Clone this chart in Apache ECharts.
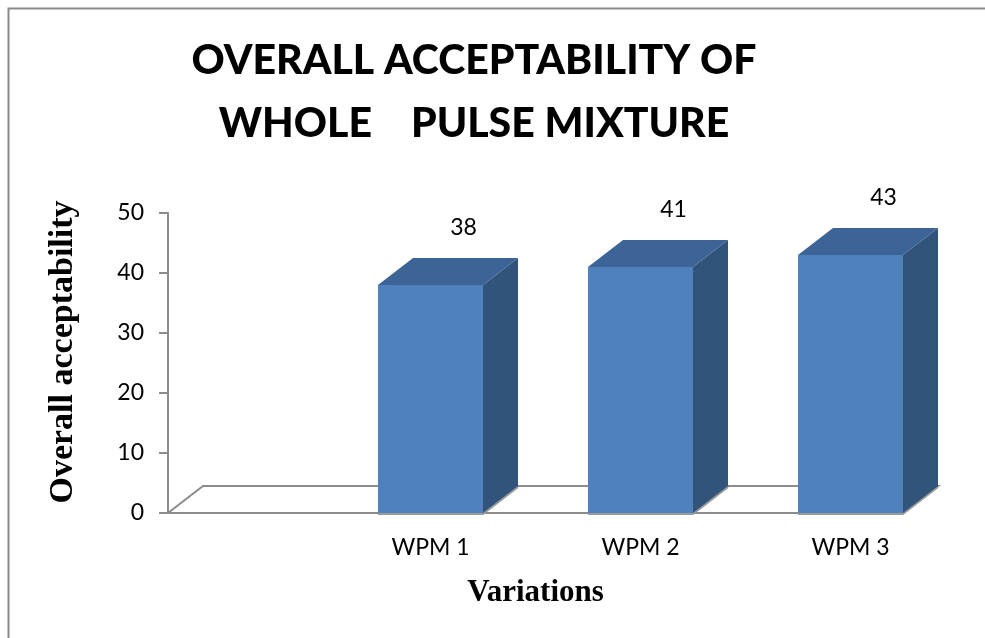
<!DOCTYPE html>
<html>
<head>
<meta charset="utf-8">
<script src="https://cdn.jsdelivr.net/npm/echarts@6/dist/echarts.min.js"></script>
<style>
  html, body { margin: 0; padding: 0; background: #ffffff; }
  #chart { width: 985px; height: 638px; }
</style>
</head>
<body>
<div id="chart"></div>
<script>
// Chart data
const categories = ['WPM 1', 'WPM 2', 'WPM 3'];
const acceptability = [38, 41, 43];
const yTicks = [0, 10, 20, 30, 40, 50];

// Layout of the pseudo-3D columns, in x-axis units (one slot per category)
const FIRST_SLOT = 1;      // columns start one slot after the axis origin
const BAR_WIDTH = 0.5;     // column front face width, in slots
const X_MAX = categories.length + FIRST_SLOT - 1 + BAR_WIDTH;
const DEPTH = [35, -27];   // oblique depth offset, px

const FRONT = '#4F81BD';
const TOP = '#3C6496';
const SIDE = '#32537A';

const chart = echarts.init(document.getElementById('chart'));

function floorItem(params, api) {
  const a = api.coord([0, 0]);
  const b = api.coord([X_MAX, 0]);
  return {
    type: 'polygon',
    shape: {
      points: [
        a, b,
        [b[0] + DEPTH[0], b[1] + DEPTH[1]],
        [a[0] + DEPTH[0], a[1] + DEPTH[1]]
      ]
    },
    style: { fill: '#ffffff', stroke: '#8C8C8C', lineWidth: 2 },
    z2: 0
  };
}

function barItem(params, api) {
  const x = api.value(0);
  const v = api.value(1);
  const bl = api.coord([x, 0]);
  const tl = api.coord([x, v]);
  const tr = api.coord([x + BAR_WIDTH, v]);
  const br = api.coord([x + BAR_WIDTH, 0]);
  const dx = DEPTH[0], dy = DEPTH[1];
  const sh = (p) => [p[0] + dx, p[1] + dy];
  return {
    type: 'group',
    children: [
      {
        type: 'polyline',
        shape: { points: [[bl[0], bl[1] + 1], [br[0], br[1] + 1], [sh(br)[0], sh(br)[1] + 1]] },
        style: { stroke: '#9A9A9A', lineWidth: 2, fill: null }
      },
      {
        type: 'polygon',
        shape: { points: [tr, sh(tr), sh(br), br] },
        style: { fill: SIDE }
      },
      {
        type: 'polygon',
        shape: { points: [tl, sh(tl), sh(tr), tr] },
        style: { fill: TOP }
      },
      {
        type: 'rect',
        shape: { x: tl[0], y: tl[1], width: tr[0] - tl[0], height: bl[1] - tl[1] },
        style: { fill: FRONT }
      },
      {
        type: 'text',
        x: (tl[0] + tr[0]) / 2 + dx - 2,
        y: tl[1] + dy - 30,
        style: {
          text: String(v),
          fill: '#000000',
          font: '23px Lato',
          align: 'center',
          verticalAlign: 'middle'
        }
      }
    ]
  };
}

const barData = acceptability.map((v, i) => [i + FIRST_SLOT, v]);

chart.setOption({
  animation: false,
  backgroundColor: '#ffffff',
  title: {
    text: 'OVERALL ACCEPTABILITY OF\nWHOLE    PULSE MIXTURE',
    left: 469,
    top: 24,
    textAlign: 'center',
    textStyle: {
      fontFamily: 'Lato',
      fontWeight: 900,
      fontSize: 41,
      lineHeight: 63,
      color: '#000000'
    }
  },
  graphic: [{
    type: 'rect',
    shape: { x: 8.5, y: 8.5, width: 1100, height: 800 },
    style: { fill: null, stroke: '#8A8A8A', lineWidth: 2 },
    silent: true
  }],
  grid: { left: 168, top: 213, width: 735, height: 300 },
  xAxis: {
    type: 'value',
    min: 0,
    max: X_MAX,
    interval: 0.25,
    name: 'Variations',
    nameLocation: 'middle',
    nameGap: 64,
    nameTextStyle: {
      fontFamily: 'Liberation Serif',
      fontWeight: 'bold',
      fontSize: 31,
      color: '#000000'
    },
    axisLine: { show: false },
    axisTick: { show: false },
    splitLine: { show: false },
    axisLabel: {
      margin: 23,
      fontFamily: 'Lato',
      fontSize: 23,
      color: '#000000',
      formatter: function (val) {
        const idx = Math.round((val - FIRST_SLOT - BAR_WIDTH / 2) * 100);
        if (idx % 100 !== 0) return '';
        return categories[idx / 100] || '';
      }
    }
  },
  yAxis: {
    type: 'value',
    min: yTicks[0],
    max: yTicks[yTicks.length - 1],
    interval: yTicks[1] - yTicks[0],
    name: 'Overall acceptability',
    nameLocation: 'middle',
    nameRotate: 90,
    nameGap: 88,
    nameTextStyle: {
      fontFamily: 'Liberation Serif',
      fontWeight: 'bold',
      fontSize: 34,
      color: '#000000',
      padding: [0, 0, 0, 22]
    },
    axisLine: { show: true, lineStyle: { color: '#8C8C8C', width: 2 } },
    axisTick: { show: true, length: 9, lineStyle: { color: '#8C8C8C', width: 2 } },
    splitLine: { show: false },
    axisLabel: {
      margin: 24,
      fontFamily: 'Lato',
      fontSize: 23,
      color: '#000000'
    }
  },
  series: [
    {
      type: 'custom',
      name: 'floor',
      renderItem: floorItem,
      data: [[0, 0]],
      z: 1,
      silent: true
    },
    {
      type: 'custom',
      name: 'Overall acceptability',
      renderItem: barItem,
      data: barData,
      encode: { x: 0, y: 1 },
      z: 2
    }
  ]
});
</script>
</body>
</html>
